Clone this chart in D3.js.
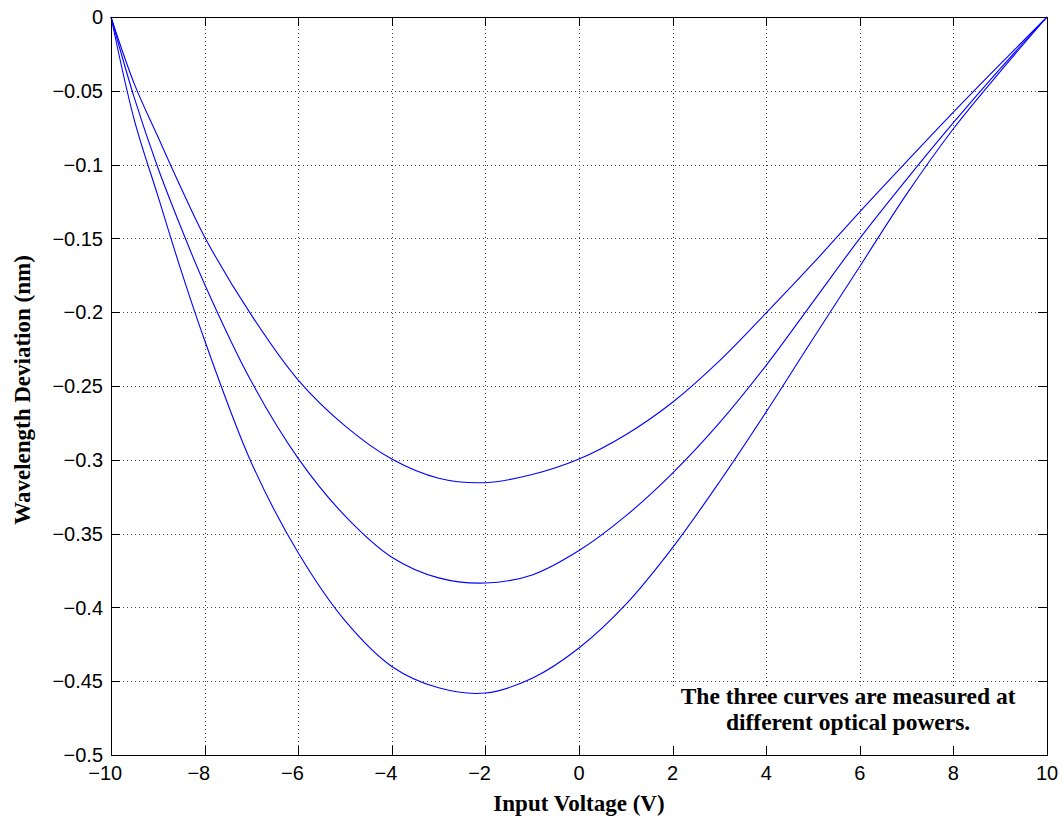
<!DOCTYPE html>
<html>
<head>
<meta charset="utf-8">
<script src="https://cdn.jsdelivr.net/npm/d3@7"></script>
<style>
  html, body { margin: 0; padding: 0; background: #fff; }
  svg { display: block; }
</style>
</head>
<body>
<div id="chart"></div>
<script>
// ---- data ----
const voltage = [-10, -9.5, -9, -8.5, -8, -7, -6, -5, -4, -3, -2, -1, 0, 1, 2, 3, 4, 5, 6, 7, 8, 9, 10];
const curveLow = [0, -0.0455, -0.081, -0.116, -0.149, -0.202, -0.246, -0.277, -0.2995, -0.3125, -0.3155, -0.310, -0.2995, -0.283, -0.261, -0.233, -0.2005, -0.167, -0.132, -0.098, -0.0645, -0.032, 0];
const curveMid = [0, -0.055, -0.102, -0.143, -0.181, -0.247, -0.299, -0.338, -0.366, -0.380, -0.3835, -0.378, -0.3615, -0.338, -0.309, -0.275, -0.236, -0.193, -0.150, -0.110, -0.0716, -0.035, 0];
const curveHigh = [0, -0.070, -0.121, -0.172, -0.219, -0.302, -0.363, -0.409, -0.440, -0.4545, -0.458, -0.448, -0.4275, -0.398, -0.3595, -0.315, -0.2675, -0.218, -0.169, -0.120, -0.0757, -0.037, 0];
const seriesList = [curveLow, curveMid, curveHigh];

const xTicks = [-10, -8, -6, -4, -2, 0, 2, 4, 6, 8, 10];
const yTicks = [0, -0.05, -0.1, -0.15, -0.2, -0.25, -0.3, -0.35, -0.4, -0.45, -0.5];
const yTickLabels = ["0", "\u22120.05", "\u22120.1", "\u22120.15", "\u22120.2", "\u22120.25", "\u22120.3", "\u22120.35", "\u22120.4", "\u22120.45", "\u22120.5"];
const xLabel = "Input Voltage (V)";
const yLabel = "Wavelength Deviation (nm)";
const noteLines = ["The three curves are measured at", "different optical powers."];

// ---- layout ----
const W = 1061, H = 820;
const m = { left: 111, top: 17, right: 14, bottom: 65 };
const pw = W - m.left - m.right;   // 936
const ph = H - m.top - m.bottom;   // 738

const svg = d3.select("#chart").append("svg")
  .attr("width", W).attr("height", H)
  .style("background", "#fff");

const x = d3.scaleLinear().domain([-10, 10]).range([0, pw]);
const y = d3.scaleLinear().domain([-0.5, 0]).range([ph, 0]);

const g = svg.append("g").attr("transform", `translate(${m.left},${m.top})`);

// grid
const gridStyle = sel => sel.attr("stroke", "#444").attr("stroke-width", 1)
  .attr("stroke-dasharray", "1,3").attr("shape-rendering", "crispEdges");
g.append("g").selectAll("line").data(xTicks.slice(1, -1)).join("line")
  .attr("x1", d => Math.round(x(d)) + 0.5).attr("x2", d => Math.round(x(d)) + 0.5)
  .attr("y1", 0).attr("y2", ph).call(gridStyle);
g.append("g").selectAll("line").data(yTicks.slice(1, -1)).join("line")
  .attr("y1", d => Math.round(y(d)) + 0.5).attr("y2", d => Math.round(y(d)) + 0.5)
  .attr("x1", 0).attr("x2", pw).call(gridStyle);

// curves
const line = d3.line()
  .x((d, i) => x(voltage[i]))
  .y(d => y(d))
  .curve(d3.curveCatmullRom.alpha(0.5));
g.append("g").selectAll("path").data(seriesList).join("path")
  .attr("d", line)
  .attr("fill", "none")
  .attr("stroke", "#0000ff")
  .attr("stroke-width", 1.1);

// annotation box (white background)
const note = g.append("g");
note.append("rect")
  .attr("x", x(1.7)).attr("y", y(-0.4545))
  .attr("width", x(9.7) - x(1.7)).attr("height", y(-0.4975) - y(-0.4545))
  .attr("fill", "#fff");
note.selectAll("text").data(noteLines).join("text")
  .attr("x", x(5.75))
  .attr("y", (d, i) => y(-0.4585) + 10 + i * 26)
  .attr("text-anchor", "middle")
  .attr("font-family", "'Liberation Serif', 'Times New Roman', serif")
  .attr("font-weight", "bold")
  .attr("font-size", 23.5)
  .attr("fill", "#000")
  .text(d => d);

// axes (MATLAB-style box with inward ticks on all sides)
const tickLen = 9;
const axisG = g.append("g").attr("shape-rendering", "crispEdges");
const xAxisB = d3.axisBottom(x).tickValues(xTicks).tickSize(-tickLen).tickFormat("");
const xAxisT = d3.axisTop(x).tickValues(xTicks).tickSize(-tickLen).tickFormat("");
const yAxisL = d3.axisLeft(y).tickValues(yTicks).tickSize(-tickLen).tickFormat("");
const yAxisR = d3.axisRight(y).tickValues(yTicks).tickSize(-tickLen).tickFormat("");
axisG.append("g").attr("transform", `translate(0,${ph})`).call(xAxisB);
axisG.append("g").call(xAxisT);
axisG.append("g").call(yAxisL);
axisG.append("g").attr("transform", `translate(${pw},0)`).call(yAxisR);
axisG.selectAll(".domain").attr("stroke", "#000").attr("stroke-width", 1);
axisG.selectAll(".tick line").attr("stroke", "#000");

// tick labels
const tickFont = "'Liberation Sans', Arial, Helvetica, sans-serif";
g.append("g").selectAll("text").data(xTicks).join("text")
  .attr("x", d => x(d) + (d < 0 ? -5.8 : 0))
  .attr("y", ph + 25)
  .attr("text-anchor", "middle")
  .attr("font-family", tickFont).attr("font-size", 20).attr("fill", "#000")
  .text(d => d < 0 ? "\u2212" + Math.abs(d) : String(d));
g.append("g").selectAll("text").data(yTicks).join("text")
  .attr("x", -8)
  .attr("y", d => y(d))
  .attr("dy", "0.36em")
  .attr("text-anchor", "end")
  .attr("font-family", tickFont).attr("font-size", 20).attr("fill", "#000")
  .text((d, i) => yTickLabels[i]);

// axis titles
svg.append("text")
  .attr("x", m.left + pw / 2).attr("y", 811)
  .attr("text-anchor", "middle")
  .attr("font-family", "'Liberation Serif', 'Times New Roman', serif")
  .attr("font-weight", "bold").attr("font-size", 23).attr("fill", "#000")
  .text(xLabel);
svg.append("text")
  .attr("transform", `translate(30,${m.top + ph / 2 + 4}) rotate(-90)`)
  .attr("text-anchor", "middle")
  .attr("font-family", "'Liberation Serif', 'Times New Roman', serif")
  .attr("font-weight", "bold").attr("font-size", 23).attr("fill", "#000")
  .text(yLabel);
</script>
</body>
</html>
